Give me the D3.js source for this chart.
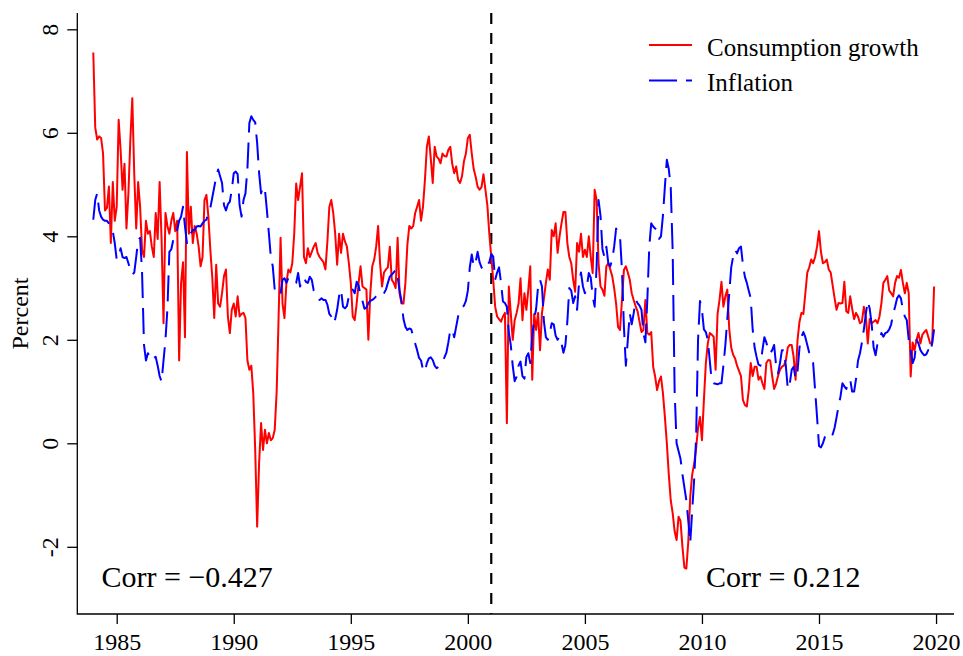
<!DOCTYPE html>
<html>
  <head>
    <title>Consumption growth and inflation</title>
    <meta charset="utf-8">
    <style>
      body {
        margin: 0;
        background-color: white;
      }
      svg text {
        font-family: "Liberation Serif", "Times New Roman", serif;
        fill: black;
      }
      .axis line {
        stroke: #000;
        stroke-width: 1.3;
      }
    </style>
  </head>
  <body>
  <svg class="chart"></svg>
  <script src="https://cdn.jsdelivr.net/npm/d3@7"></script>
  <script>

    // monthly series, Jan 1984 - Dec 2019 (one row per year)
    var startYear = 1984;

    var consumption = [
      7.55, 6.10, 5.87, 5.93, 5.90, 5.60, 4.50, 4.55, 4.96, 3.87, 5.05, 4.30,
      4.57, 6.25, 5.67, 4.90, 5.40, 4.15, 4.83, 5.87, 6.67, 5.20, 4.15, 5.05,
      4.57, 3.74, 3.60, 4.30, 4.05, 4.10, 3.80, 3.60, 4.45, 3.95, 5.05, 3.95,
      2.32, 4.45, 4.20, 4.05, 4.30, 4.45, 4.10, 4.30, 1.60, 3.10, 3.50, 2.05,
      5.63, 4.05, 4.57, 3.87, 4.20, 4.05, 3.80, 3.42, 3.60, 4.70, 4.80, 4.38,
      3.74, 3.20, 2.42, 3.45, 2.70, 2.64, 2.90, 3.23, 3.36, 2.45, 2.13, 2.58,
      2.70, 2.45, 2.84, 2.45, 2.50, 2.52, 2.42, 1.60, 1.42, 1.50, 0.97, -0.13,
      -1.61, -0.38, 0.39, -0.13, 0.26, 0.00, 0.20, 0.06, 0.10, 0.26, 1.00, 2.45,
      3.97, 2.70, 2.42, 3.10, 3.36, 3.30, 3.48, 4.05, 5.02, 4.70, 4.96, 5.22,
      3.60, 3.48, 3.77, 3.60, 3.70, 3.80, 3.87, 3.68, 3.60, 3.55, 3.50, 3.36,
      3.90, 4.57, 4.70, 4.45, 4.05, 3.45, 4.05, 3.68, 4.05, 3.90, 3.80, 3.48,
      3.10, 2.45, 2.38, 2.70, 3.10, 3.42, 3.03, 3.00, 2.97, 2.00, 2.90, 3.42,
      3.55, 3.80, 4.20, 3.48, 3.03, 3.30, 3.36, 3.40, 3.80, 3.16, 3.10, 3.00,
      3.97, 2.90, 2.70, 2.70, 3.10, 3.84, 4.20, 4.15, 4.20, 4.45, 4.57, 4.70,
      4.30, 4.57, 5.09, 5.73, 5.93, 5.50, 5.03, 5.73, 5.54, 5.50, 5.41, 5.60,
      5.55, 5.54, 5.67, 5.73, 5.40, 5.22, 5.35, 5.09, 5.03, 5.16, 5.45, 5.60,
      5.90, 5.96, 5.60, 5.30, 5.15, 4.96, 4.90, 4.95, 5.20, 4.90, 4.60, 4.05,
      3.60, 3.16, 2.64, 2.45, 2.40, 2.35, 2.45, 2.52, 0.39, 3.03, 2.52, 2.00,
      2.38, 2.52, 2.70, 3.19, 2.38, 2.90, 2.58, 2.97, 3.42, 1.23, 2.50, 2.19,
      2.52, 1.80, 2.52, 2.80, 3.10, 3.36, 3.16, 4.12, 4.00, 4.25, 3.68, 4.00,
      4.25, 4.47, 4.47, 3.87, 3.60, 3.48, 3.16, 2.93, 3.87, 3.70, 4.05, 3.60,
      3.74, 3.60, 4.00, 3.60, 3.29, 4.90, 4.70, 3.48, 3.03, 2.97, 2.85, 3.42,
      3.48, 3.36, 3.23, 3.00, 2.70, 2.25, 2.19, 2.77, 3.35, 3.42, 3.30, 3.16,
      2.90, 2.77, 2.65, 2.55, 2.35, 2.15, 2.19, 2.77, 2.13, 2.10, 2.15, 1.48,
      1.29, 1.03, 1.20, 1.29, 0.97, 0.51, 0.00, -0.60, -1.10, -1.35, -1.70, -1.87,
      -1.42, -1.50, -2.00, -2.40, -2.42, -1.90, -1.03, -0.60, -0.40, -0.10, 0.30, 0.51,
      0.06, 0.84, 1.55, 1.93, 2.13, 2.10, 2.06, 1.42, 2.50, 2.77, 3.12, 2.64,
      2.84, 2.97, 2.20, 1.85, 1.71, 1.64, 1.50, 1.40, 1.30, 0.84, 0.74, 0.71,
      1.03, 1.55, 1.30, 1.48, 1.48, 1.23, 1.29, 1.16, 1.05, 1.55, 1.61, 1.60,
      1.30, 1.05, 1.15, 1.30, 1.42, 1.48, 1.50, 1.60, 1.85, 1.90, 1.90, 1.67,
      1.23, 2.00, 2.35, 2.52, 2.50, 2.90, 3.30, 3.40, 3.55, 3.48, 3.60, 3.80,
      4.10, 3.70, 3.48, 3.50, 3.55, 3.36, 3.30, 3.05, 2.80, 2.58, 2.71, 2.70,
      2.71, 3.12, 2.55, 2.52, 2.84, 2.60, 2.40, 2.52, 2.45, 2.32, 2.35, 2.64,
      2.45, 1.93, 2.40, 2.32, 2.35, 2.38, 2.32, 2.45, 2.71, 3.10, 3.16, 3.23,
      2.95, 2.90, 2.84, 3.10, 3.23, 3.20, 3.35, 3.10, 2.90, 3.10, 2.90, 1.29,
      1.95, 1.80, 2.00, 2.13, 1.93, 2.10, 2.15, 2.19, 2.06, 1.93, 1.93, 3.03
    ];

    var inflation = [
      4.32, 4.70, 4.83, 4.50, 4.38, 4.32, 4.30, 4.30, 4.25, 4.20, 4.10, 3.87,
      3.55, 3.60, 3.77, 3.60, 3.58, 3.60, 3.48, 3.36, 3.26, 3.30, 3.60, 3.93,
      3.97, 3.30, 1.90, 1.60, 1.74, 1.67, 1.60, 1.65, 1.67, 1.50, 1.30, 1.19,
      1.60, 2.00, 2.60, 3.70, 3.75, 3.93, 4.00, 4.12, 4.30, 4.38, 4.57, 4.19,
      3.87, 3.95, 4.06, 4.12, 4.12, 4.19, 4.20, 4.19, 4.25, 4.30, 4.32, 4.45,
      4.55, 4.75, 4.95, 5.15, 5.29, 5.16, 5.03, 4.60, 4.50, 4.62, 4.67, 4.90,
      5.22, 5.25, 5.20, 4.60, 4.38, 4.70, 4.83, 5.30, 6.19, 6.32, 6.25, 6.20,
      5.80, 5.22, 4.83, 4.96, 4.90, 4.50, 4.06, 3.60, 3.42, 2.97, 3.00, 2.90,
      2.90, 3.16, 3.19, 3.10, 3.19, 3.16, 3.16, 3.10, 3.10, 3.29, 3.03, 3.16,
      3.20, 3.12, 3.10, 3.22, 3.16, 2.95, 2.90, 2.85, 2.77, 2.80, 2.77, 2.77,
      2.68, 2.50, 2.45, 2.32, 2.40, 2.58, 2.85, 2.97, 2.64, 2.61, 2.65, 2.84,
      2.85, 2.97, 2.90, 3.12, 3.05, 2.85, 2.75, 2.60, 2.62, 2.71, 2.75, 2.77,
      2.80, 2.84, 2.86, 2.87, 2.84, 2.90, 2.97, 3.10, 3.22, 3.26, 3.30, 3.36,
      3.22, 2.95, 2.75, 2.40, 2.25, 2.19, 2.22, 2.20, 2.06, 1.93, 1.80, 1.65,
      1.60, 1.42, 1.38, 1.55, 1.64, 1.66, 1.61, 1.50, 1.45, 1.48, 1.51, 1.58,
      1.66, 1.75, 1.95, 2.19, 2.20, 2.05, 2.25, 2.45, 2.58, 2.62, 2.66, 2.75,
      2.95, 3.40, 3.65, 3.42, 3.50, 3.70, 3.50, 3.40, 3.35, 3.40, 3.45, 3.50,
      3.65, 3.61, 3.16, 3.30, 3.40, 3.10, 2.74, 2.71, 2.64, 2.15, 1.90, 1.50,
      1.20, 1.29, 1.50, 1.58, 1.30, 1.25, 1.67, 1.74, 1.55, 2.06, 2.40, 2.60,
      3.03, 3.16, 3.03, 2.35, 2.05, 2.00, 2.13, 2.32, 2.30, 2.08, 2.00, 2.06,
      1.93, 1.75, 1.90, 2.35, 3.00, 2.95, 2.71, 2.84, 2.58, 3.10, 3.30, 3.03,
      2.90, 3.03, 3.29, 3.20, 2.84, 2.64, 3.42, 4.70, 4.40, 3.75, 3.60, 3.80,
      3.48, 3.42, 3.55, 3.80, 4.15, 4.06, 4.00, 3.35, 2.25, 1.50, 2.00, 2.51,
      2.30, 2.51, 2.77, 2.71, 2.66, 2.58, 2.13, 1.95, 2.77, 3.80, 4.25, 4.19,
      4.15, 4.12, 3.95, 4.00, 4.40, 4.96, 5.48, 5.30, 4.95, 3.70, 1.00, 0.00,
      -0.15, -0.30, -0.60, -0.85, -1.10, -1.50, -1.93, -1.30, -0.70, 0.10, 2.00, 2.75,
      2.58, 2.20, 2.15, 2.00, 1.60, 1.20, 1.16, 1.15, 1.14, 1.16, 1.16, 1.50,
      1.90, 2.40, 2.90, 3.40, 3.61, 3.74, 3.67, 3.77, 3.80, 3.45, 3.22, 3.10,
      2.95, 2.80, 2.20, 1.85, 1.67, 1.52, 1.50, 1.80, 2.05, 1.95, 1.80, 1.74,
      1.80, 1.90, 1.50, 1.35, 1.55, 1.80, 1.80, 1.50, 1.05, 1.15, 1.42, 1.48,
      1.25, 1.40, 1.85, 2.06, 2.15, 2.05, 1.90, 1.75, 1.68, 1.55, 1.03, 0.51,
      -0.05, -0.08, 0.00, 0.12, 0.18, 0.22, 0.17, 0.17, 0.30, 0.50, 0.72, 0.90,
      1.16, 1.10, 1.05, 1.16, 1.23, 1.00, 1.00, 1.25, 1.60, 1.74, 1.95, 2.20,
      2.50, 2.75, 2.60, 2.30, 1.85, 1.70, 1.93, 2.00, 2.13, 2.06, 2.13, 2.15,
      2.20, 2.30, 2.50, 2.64, 2.80, 2.86, 2.80, 2.58, 2.45, 2.38, 2.00, 1.80,
      1.55, 1.65, 2.00, 1.93, 1.80, 1.74, 1.70, 1.72, 1.80, 1.74, 1.93, 2.20
    ];

    var xTicks = [1985, 1990, 1995, 2000, 2005, 2010, 2015, 2020];
    var yTicks = [-2, 0, 2, 4, 6, 8];
    var breakYear = 2001;
    var seriesNames = ["Consumption growth", "Inflation"];
    var corrLabels = ["Corr = \u22120.427", "Corr = 0.212"];

    // plot region (L-shaped box on left and bottom)
    var width = 963, height = 656;
    var plot = {left: 77.3, right: 954, top: 13, bottom: 614};

    var svg = d3.select("svg")
      .attr("width", width)
      .attr("height", height);

    svg.append("rect")
      .attr("width", width)
      .attr("height", height)
      .attr("fill", "white");

    var x = d3.scaleLinear()
      .domain([1985, 2020])
      .range([116.7, 936.05]);

    var y = d3.scaleLinear()
      .domain([-2, 8])
      .range([546.8, 29.3]);

    // month -> decimal year
    function toSeries(values) {
      return values.map(function(v, i) { return {t: startYear + i / 12, v: v}; });
    }

    var line = d3.line()
      .x(function(d) { return x(d.t); })
      .y(function(d) { return y(d.v); });

    // x axis
    var xAxis = svg.append("g")
      .attr("class", "axis")
      .attr("transform", "translate(0," + plot.bottom + ")")
      .call(d3.axisBottom(x).tickValues(xTicks).tickSize(10).tickFormat(function(d) { return String(d); }));
    xAxis.select(".domain").remove();
    xAxis.selectAll("text")
      .attr("y", 36)
      .attr("dy", null)
      .style("font-size", "24px");

    // y axis, labels rotated like base R (plain hyphen for negatives)
    var yAxis = svg.append("g")
      .attr("class", "axis")
      .attr("transform", "translate(" + plot.left + ",0)")
      .call(d3.axisLeft(y).tickValues(yTicks).tickSize(10).tickFormat(function(d) { return String(d); }));
    yAxis.select(".domain").remove();
    yAxis.selectAll("text")
      .attr("x", 0)
      .attr("dy", null)
      .attr("text-anchor", "middle")
      .attr("transform", "translate(-19.8,0) rotate(-90)")
      .style("font-size", "24px");

    // L box
    svg.append("path")
      .attr("d", "M" + plot.left + "," + plot.top + "V" + plot.bottom + "H" + plot.right)
      .attr("fill", "none")
      .attr("stroke", "black")
      .attr("stroke-width", 1.3);

    svg.append("text")
      .attr("transform", "translate(28," + ((plot.top + plot.bottom) / 2) + ") rotate(-90)")
      .attr("text-anchor", "middle")
      .style("font-size", "24px")
      .text("Percent");

    // vertical break line
    svg.append("line")
      .attr("x1", x(breakYear))
      .attr("x2", x(breakYear))
      .attr("y1", plot.top)
      .attr("y2", plot.bottom)
      .attr("stroke", "black")
      .attr("stroke-width", 2.2)
      .attr("stroke-dasharray", "11,9");

    // series
    svg.append("path")
      .datum(toSeries(consumption))
      .attr("d", line)
      .attr("fill", "none")
      .attr("stroke", "#ff0000")
      .attr("stroke-width", 2)
      .attr("stroke-linejoin", "round");

    svg.append("path")
      .datum(toSeries(inflation))
      .attr("d", line)
      .attr("fill", "none")
      .attr("stroke", "#0000ff")
      .attr("stroke-width", 2)
      .attr("stroke-linejoin", "round")
      .attr("stroke-dasharray", "26,10");

    // legend
    var legend = svg.append("g");
    legend.append("line")
      .attr("x1", 649).attr("x2", 692).attr("y1", 45).attr("y2", 45)
      .attr("stroke", "#ff0000").attr("stroke-width", 2);
    legend.append("line")
      .attr("x1", 649).attr("x2", 692).attr("y1", 80.5).attr("y2", 80.5)
      .attr("stroke", "#0000ff").attr("stroke-width", 2)
      .attr("stroke-dasharray", "28,9");
    legend.selectAll("text.leg")
      .data(seriesNames)
      .enter().append("text")
      .attr("class", "leg")
      .attr("x", 707)
      .attr("y", function(d, i) { return 56 + i * 35; })
      .style("font-size", "25px")
      .text(function(d) { return d; });

    // correlation notes
    svg.append("text")
      .attr("x", 101.5)
      .attr("y", 586.5)
      .style("font-size", "30px")
      .text(corrLabels[0]);
    svg.append("text")
      .attr("x", 706)
      .attr("y", 586.5)
      .style("font-size", "30px")
      .text(corrLabels[1]);

  </script>
  </body>
</html>
